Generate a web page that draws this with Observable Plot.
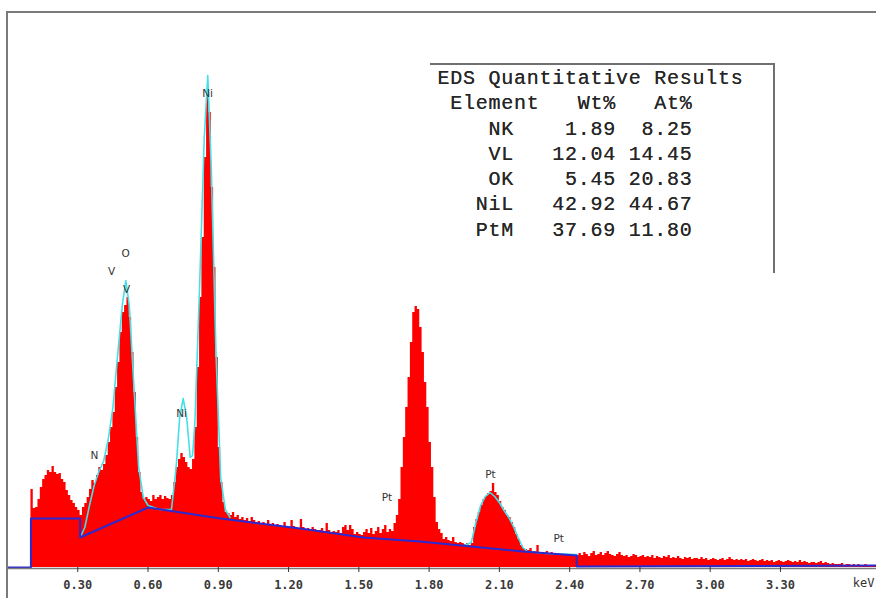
<!DOCTYPE html>
<html>
<head>
<meta charset="utf-8">
<script src="https://cdn.jsdelivr.net/npm/d3@7"></script>
<script src="https://cdn.jsdelivr.net/npm/@observablehq/plot@0.6"></script>
<style>
  html, body { margin: 0; padding: 0; background: #fff; }
  #wrap { position: relative; width: 876px; height: 598px; overflow: hidden; }
  #frame { position: absolute; left: 6px; top: 11px; width: 870px; height: 587px;
           border-top: 2px solid #7a7a7a; border-left: 2px solid #7a7a7a; box-sizing: border-box; pointer-events: none; }
  #table { position: absolute; left: 430px; top: 63px; width: 345px; height: 210px; box-sizing: border-box;
           border-top: 2px solid #707070; border-right: 2px solid #707070; }
  #table pre { margin: 0; padding: 1px 0 0 7.5px; font-family: "Liberation Mono", "DejaVu Sans Mono", monospace;
               font-size: 20px; letter-spacing: 0.75px; line-height: 25.3px; color: #262626;
               text-shadow: 0 0 0.6px #444; }
</style>
</head>
<body>
<div id="wrap">
  <div id="chart"></div>
  <div id="frame"></div>
  <div id="table"><pre id="tabletext"></pre></div>
</div>
<script>
// ---- Spectrum: counts per 0.01 keV channel, starting at 0.10 keV ----
const channelStart = 0.10;
const channelWidth = 0.01;
const counts = [
  78,59,60,68,80,88,92,97,95,101,          // 0.10-0.19
  95,93,94,88,85,77,72,67,64,60,           // 0.20-0.29
  57,52,60,64,70,78,87,84,92,100,          // 0.30-0.39
  97,103,112,125,140,155,180,205,235,255,  // 0.40-0.49
  262,270,250,215,175,130,95,75,68,70,     // 0.50-0.59
  68,66,72,68,70,72,68,71,69,68,           // 0.60-0.69
  72,85,100,108,114,110,105,100,98,108,    // 0.70-0.79
  140,200,270,330,410,470,455,380,300,210, // 0.80-0.89
  120,85,65,55,54,52,55,50,52,48,          // 0.90-0.99
  50,47,49,46,50,47,45,46,44,45,           // 1.00-1.09
  43,47,42,44,41,43,42,40,45,41,           // 1.10-1.19
  40,47,41,40,39,48,40,38,39,37,           // 1.20-1.29
  40,38,36,37,39,36,44,37,35,36,           // 1.30-1.39
  35,37,34,40,42,37,42,38,33,35,           // 1.40-1.49
  33,32,35,38,34,39,33,36,40,34,           // 1.50-1.59
  38,42,35,38,36,44,52,68,100,130,         // 1.60-1.69
  160,190,225,255,261,258,240,215,185,160, // 1.70-1.79
  125,100,70,45,38,34,28,30,27,26,         // 1.80-1.89
  30,25,24,25,24,23,24,22,24,40,           // 1.90-1.99
  48,55,62,68,71,74,76,84,75,72,           // 2.00-2.09
  66,60,57,52,50,45,40,33,28,22,           // 2.10-2.19
  19,18,17,19,16,16,22,15,15,14,           // 2.20-2.29
  16,14,15,13,14,13,13,12,13,12,           // 2.30-2.39
  13,12,13,12,                             // 2.40-2.43
  14,12,15,13,11,14,16,12,13,15,           // 2.44-2.53
  12,14,16,13,12,11,13,15,12,11,           // 2.54-2.63
  12,10,11,13,12,10,11,12,10,11,           // 2.64-2.73
  10,12,9,11,10,9,11,10,12,9,              // 2.74-2.83
  10,9,11,9,8,10,9,10,8,9,                 // 2.84-2.93
  9,8,10,8,9,7,8,9,8,7,                    // 2.94-3.03
  8,9,7,8,10,8,7,8,7,8,                    // 3.04-3.13
  7,8,6,7,8,7,6,7,8,6,                     // 3.14-3.23
  7,6,7,5,6,7,6,5,6,7,                     // 3.24-3.33
  6,5,6,5,7,5,6,5,4,5,                     // 3.34-3.43
  5,4,5,6,4,5,4,3,4,3,                     // 3.44-3.53
  3,3,4,2,3,3,2,3,2,3,                     // 3.54-3.63
  2,2,3,2,2,2,2                            // 3.64-3.70
];

// ---- Background (blue) ----
const bgEnergy = [0, 0.10, 0.10, 0.31, 0.31, 0.60, 0.91, 1.25, 1.52, 1.76, 1.98, 2.20, 2.43, 2.43, 3.71];
const bgCounts = [0, 0, 49, 49, 30, 60, 49, 39, 30, 26, 21, 16, 12, 1, 2];

// ---- Fitted spectrum (cyan), two segments ----
const fitEnergy1 = [0.31,0.33,0.35,0.37,0.39,0.41,0.43,0.45,0.47,0.49,0.505,0.52,0.54,0.56,0.58,0.60,0.65,0.70,0.72,0.735,0.75,0.765,0.78,0.79,0.80,0.82,0.84,0.855,0.87,0.89,0.91,0.93,0.95];
const fitCounts1 = [30,40,62,82,96,106,128,160,212,262,287,262,180,100,70,62,58,58,100,150,169,150,110,112,145,280,430,492,400,215,90,58,50];
const fitEnergy2 = [1.95,1.98,2.00,2.02,2.04,2.06,2.08,2.10,2.12,2.14,2.16,2.18,2.20,2.22,2.30,2.43];
const fitCounts2 = [22,25,45,62,71,75,71,65,57,50,41,30,20,16,14,13];

// ---- Peak labels ----
const peakLabels = ["Ni", "O", "V", "V", "N", "Ni", "Pt", "Pt", "Pt"];
const peakEnergy = [0.854, 0.504, 0.444, 0.508, 0.371, 0.743, 1.62, 2.062, 2.353];
const peakCounts = [474, 314, 296, 278, 112, 154, 70, 93, 29];

// ---- Axis ticks ----
const tickValues = [0.30, 0.60, 0.90, 1.20, 1.50, 1.80, 2.10, 2.40, 2.70, 3.00, 3.30];
const axisUnit = "keV";

// ---- Quantitative results table ----
const tableTitle = "EDS Quantitative Results";
const tableHeader = ["Element", "Wt%", "At%"];
const elements = ["NK", "VL", "OK", "NiL", "PtM"];
const wtPct = [1.89, 12.04, 5.45, 42.92, 37.69];
const atPct = [8.25, 14.45, 20.83, 44.67, 11.80];

// build tables
const spectrum = counts.map((c, i) => ({E: channelStart + i * channelWidth, c}));
const stepData = spectrum.concat([{E: spectrum[spectrum.length - 1].E + channelWidth, c: counts[counts.length - 1]}]);
const bg = bgEnergy.map((E, i) => ({E, c: bgCounts[i]}));
const fit = fitEnergy1.map((E, i) => ({E, c: fitCounts1[i], seg: 1}))
  .concat(fitEnergy2.map((E, i) => ({E, c: fitCounts2[i], seg: 2})));
const labels = peakLabels.map((t, i) => ({t, E: peakEnergy[i], c: peakCounts[i]}));

const chart = Plot.plot({
  width: 876,
  height: 598,
  marginLeft: 7,
  marginRight: 0,
  marginTop: 12,
  marginBottom: 31,
  style: {background: "transparent", color: "#333"},
  x: {domain: [0, 3.71], axis: null},
  y: {domain: [0, 555], axis: null},
  marks: [
    Plot.areaY(stepData, {x: "E", y: "c", curve: "step-after", fill: "#ff0000"}),
    Plot.line(fit, {x: "E", y: "c", z: "seg", stroke: "#45e0e6", strokeWidth: 1.6}),
    Plot.line(bg, {x: "E", y: "c", stroke: "#2a2ad0", strokeWidth: 2}),
    Plot.ruleY([0], {stroke: "#7a7a7a", strokeWidth: 1.5, dy: 1}),
    Plot.axisX({ticks: tickValues, tickFormat: d3.format(".2f"), tickSize: 5, tickPadding: 8,
      fontSize: 12, fontFamily: "DejaVu Sans Mono, monospace", fontWeight: "bold", label: null, stroke: "#333", fill: "#3a3a3a"}),
    Plot.text([axisUnit], {frameAnchor: "bottom-right", textAnchor: "end", dy: 19, dx: -2,
      fontSize: 12, fontFamily: "DejaVu Sans Mono, monospace", fill: "#333"}),
    Plot.text(labels, {x: "E", y: "c", text: "t", fontSize: 10.5, fontFamily: "DejaVu Sans, sans-serif", fill: "#333"})
  ]
});
document.getElementById("chart").appendChild(chart);

const lines = [tableTitle,
  " " + tableHeader[0] + tableHeader[1].padStart(6) + tableHeader[2].padStart(6)]
  .concat(elements.map((e, i) => e.padStart(6) + wtPct[i].toFixed(2).padStart(8) + atPct[i].toFixed(2).padStart(6)));
document.getElementById("tabletext").textContent = lines.join("\n");
</script>
</body>
</html>
